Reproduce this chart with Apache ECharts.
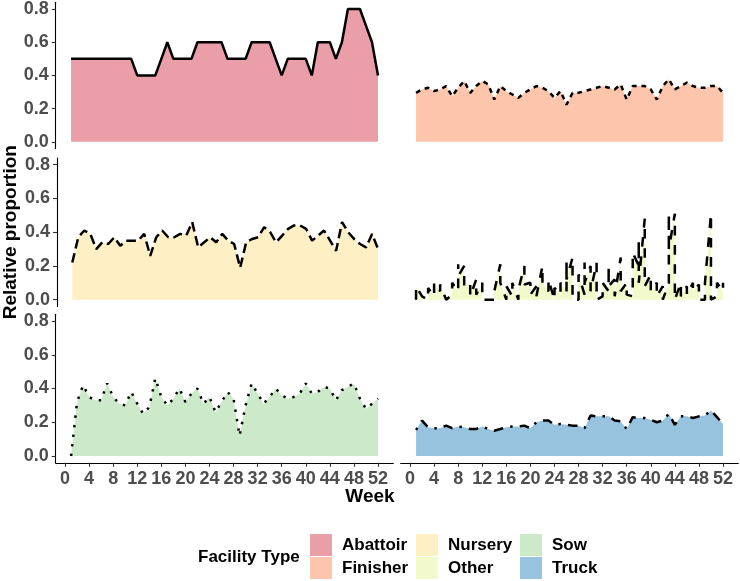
<!DOCTYPE html>
<html>
<head>
<meta charset="utf-8">
<script src="https://cdn.jsdelivr.net/npm/echarts@6.0.0/dist/echarts.min.js"></script>
<style>
html,body{margin:0;padding:0;background:#fff;}
#chart{width:740px;height:581px;}
</style>
</head>
<body>
<div id="chart"></div>
<script>
// ---------- data ----------
const facilities = ['Abattoir', 'Finisher', 'Nursery', 'Other', 'Sow', 'Truck'];
const fills = ['#EA9EA7', '#FDC6AC', '#FEEFC5', '#F2FACB', '#CCEAC9', '#98C3DE'];
const weeks = [1,2,3,4,5,6,7,8,9,10,11,12,13,14,15,16,17,18,19,20,21,22,23,24,25,26,
  27,28,29,30,31,32,33,34,35,36,37,38,39,40,41,42,43,44,45,46,47,48,49,50,51,52];
const weekTicks = [0,4,8,12,16,20,24,28,32,36,40,44,48,52];
const propTicks = [0, 0.2, 0.4, 0.6, 0.8];

const abattoir = [0.5,0.5,0.5,0.5,0.5,0.5,0.5,0.5,0.5,0.5,0.5,0.4,0.4,0.4,0.4,0.5,0.6,0.5,0.5,0.5,
  0.5,0.6,0.6,0.6,0.6,0.6,0.5,0.5,0.5,0.5,0.6,0.6,0.6,0.6,0.5,0.4,0.5,0.5,0.5,0.5,
  0.4,0.6,0.6,0.6,0.5,0.6,0.8,0.8,0.8,0.7,0.6,0.4];
const finisher = [0.29,0.31,0.32,0.30,0.31,0.33,0.27,0.32,0.36,0.29,0.33,0.36,0.34,0.25,0.33,0.30,0.28,0.26,0.29,0.31,
  0.33,0.32,0.30,0.26,0.30,0.22,0.29,0.29,0.30,0.31,0.32,0.33,0.32,0.31,0.34,0.25,0.33,0.33,0.33,0.31,
  0.25,0.33,0.37,0.31,0.33,0.35,0.33,0.32,0.32,0.33,0.33,0.29];
const nursery = [0.22,0.37,0.41,0.39,0.30,0.34,0.33,0.37,0.32,0.35,0.35,0.35,0.39,0.26,0.37,0.41,0.37,0.37,0.39,0.38,
  0.46,0.31,0.34,0.37,0.34,0.39,0.35,0.33,0.19,0.34,0.36,0.37,0.43,0.40,0.34,0.38,0.42,0.44,0.44,0.42,
  0.35,0.38,0.41,0.35,0.29,0.46,0.40,0.36,0.33,0.31,0.39,0.30];
const sow = [0.0,0.32,0.42,0.35,0.33,0.33,0.43,0.35,0.31,0.30,0.38,0.31,0.25,0.29,0.46,0.35,0.30,0.34,0.40,0.32,
  0.37,0.40,0.31,0.35,0.26,0.32,0.38,0.34,0.12,0.30,0.43,0.37,0.31,0.35,0.40,0.36,0.34,0.35,0.37,0.43,
  0.37,0.38,0.41,0.40,0.33,0.39,0.41,0.43,0.34,0.28,0.31,0.34];
const truck = [0.155,0.21,0.17,0.165,0.165,0.18,0.165,0.175,0.17,0.16,0.16,0.175,0.16,0.15,0.16,0.17,0.175,0.175,0.18,0.165,
  0.2,0.21,0.21,0.185,0.19,0.185,0.18,0.18,0.165,0.24,0.235,0.235,0.235,0.21,0.205,0.16,0.23,0.225,0.225,0.215,
  0.2,0.21,0.25,0.185,0.235,0.235,0.225,0.235,0.24,0.27,0.23,0.19];
// "Other" has several records per week
const otherWeeks = [1,1,2,3,3,4,4,5,5,6,7,7,8,8,8,9,9,10,10,11,11,12,12,13,14,14,15,15,16,16,
  17,17,18,18,19,19,20,20,21,21,22,22,23,23,24,24,25,25,26,26,26,27,27,28,28,29,29,29,30,30,
  31,31,32,32,33,33,33,34,34,35,35,36,36,37,37,38,38,38,39,39,39,40,40,41,41,42,42,43,43,43,
  44,44,44,45,45,46,46,47,47,48,48,49,49,50,50,50,51,51,52,52];
const otherValues = [0.0,0.08,0.02,0.0,0.07,0.02,0.1,0.05,0.09,0.0,0.03,0.1,0.05,0.21,0.14,0.2,0.08,0.1,0.02,0.12,
  0.03,0.1,0.0,0.0,0.0,0.05,0.21,0.1,0.0,0.08,0.02,0.1,0.0,0.06,0.2,0.09,0.1,0.03,0.08,0.02,
  0.2,0.1,0.05,0.12,0.0,0.07,0.03,0.1,0.05,0.22,0.12,0.25,0.0,0.0,0.15,0.03,0.22,0.1,0.2,0.05,
  0.22,0.0,0.02,0.1,0.05,0.2,0.08,0.12,0.02,0.25,0.05,0.1,0.03,0.02,0.28,0.2,0.35,0.1,0.48,0.25,
  0.08,0.15,0.05,0.1,0.02,0.08,0.0,0.1,0.51,0.3,0.51,0.2,0.0,0.1,0.02,0.08,0.03,0.1,0.05,0.09,
  0.0,0.0,0.1,0.51,0.15,0.0,0.02,0.1,0.05,0.1];

// ---------- layout ----------
const U = 2.4;
const dashes = ['solid', [2*U, 2*U], [4*U, 2*U], [4*U, 4*U], [1*U, 3*U], [1*U, 3*U, 4*U, 3*U]];
const colLeft = [55.7, 400.7];
const rowTop = [0, 157.95, 314.25];
const panelW = 337.65, panelH = 148.5;
const font = '"Liberation Sans", Arial, sans-serif';

const pair = (xs, ys) => xs.map((x, i) => [x, ys[i]]);
const seriesData = [
  pair(weeks, abattoir), pair(weeks, finisher), pair(weeks, nursery),
  pair(otherWeeks, otherValues), pair(weeks, sow), pair(weeks, truck)
];

const grids = [], xAxes = [], yAxes = [], series = [];
for (let i = 0; i < 6; i++) {
  const r = Math.floor(i / 2), c = i % 2;
  grids.push({left: colLeft[c], top: rowTop[r], width: panelW, height: panelH, containLabel: false});
  const showX = r === 2, showY = c === 0;
  xAxes.push({
    type: 'value', gridIndex: i, min: -1.55, max: 54.55,
    axisLine: {show: showX, onZero: false, lineStyle: {color: '#000', width: 1.1}},
    axisTick: {show: showX, customValues: weekTicks, length: 4, lineStyle: {color: '#333', width: 1.1}},
    axisLabel: {show: showX, customValues: weekTicks, margin: 7, color: '#4D4D4D',
      fontWeight: 'bold', fontSize: 18, fontFamily: font},
    splitLine: {show: false}
  });
  yAxes.push({
    type: 'value', gridIndex: i, min: -0.04, max: 0.84,
    axisLine: {show: showY, onZero: false, lineStyle: {color: '#000', width: 1.1}},
    axisTick: {show: showY, customValues: propTicks, length: 4, lineStyle: {color: '#333', width: 1.1}},
    axisLabel: {show: showY, customValues: propTicks, margin: 7, color: '#4D4D4D',
      fontWeight: 'bold', fontSize: 18, fontFamily: font,
      formatter: v => Number(v).toFixed(1)},
    splitLine: {show: false},
    name: (i === 2) ? 'Relative proportion' : '',
    nameLocation: 'middle', nameGap: 37,
    nameTextStyle: {color: '#000', fontWeight: 'bold', fontSize: 19, fontFamily: font}
  });
  series.push({
    name: facilities[i], type: 'line', xAxisIndex: i, yAxisIndex: i,
    data: seriesData[i], symbol: 'none', silent: true, animation: false,
    itemStyle: {color: fills[i]},
    lineStyle: {color: '#000', width: 2.5, type: dashes[i], cap: 'butt'},
    areaStyle: {color: fills[i], opacity: 1}
  });
}

const legendCommon = {
  orient: 'vertical', top: 534, height: 47, padding: 0, itemWidth: 22, itemHeight: 22, itemGap: 1,
  icon: 'rect', selectedMode: false,
  itemStyle: {borderWidth: 0},
  lineStyle: {width: 0},
  textStyle: {color: '#000', fontWeight: 'bold', fontSize: 17, fontFamily: font, padding: [0, 0, 0, 5]}
};
const legendData = n => n.map(name => ({name: name, itemStyle: {color: fills[facilities.indexOf(name)]}}));

const option = {
  backgroundColor: '#fff',
  animation: false,
  grid: grids, xAxis: xAxes, yAxis: yAxes, series: series,
  legend: [
    Object.assign({left: 310, data: legendData(['Abattoir', 'Finisher'])}, legendCommon),
    Object.assign({left: 416, data: legendData(['Nursery', 'Other'])}, legendCommon),
    Object.assign({left: 520, data: legendData(['Sow', 'Truck'])}, legendCommon)
  ],
  graphic: [
    {type: 'text', left: 'center', top: 487, style: {text: 'Week', fill: '#000',
      font: 'bold 19px ' + font}},
    {type: 'text', left: 198, top: 549, style: {text: 'Facility Type', fill: '#000',
      font: 'bold 17px ' + font}}
  ]
};
const chart = echarts.init(document.getElementById('chart'), null, {renderer: 'canvas'});
chart.setOption(option);
</script>
</body>
</html>
